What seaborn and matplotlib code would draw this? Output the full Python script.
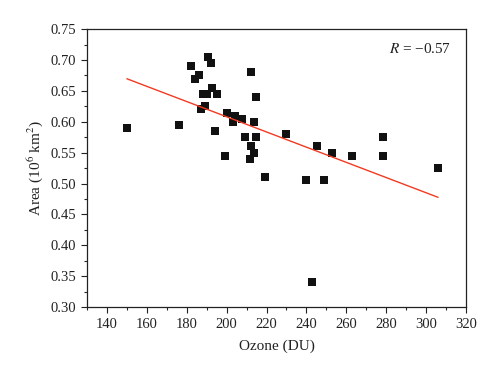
import numpy as np
import pandas as pd
import matplotlib
matplotlib.use("Agg")
import matplotlib.pyplot as plt
import seaborn as sns
from matplotlib.ticker import MultipleLocator

# values
ozone = [150, 176, 182, 184, 186, 187, 188, 189, 190, 190.5, 192, 192.5,
         194, 195, 199, 200, 203, 204, 207.5, 209, 211.5, 212, 212, 213.5,
         213.5, 214.5, 214.5, 219, 230, 240, 243, 245.5, 249, 253, 263,
         278.5, 278.5, 306]
area = [0.590, 0.595, 0.690, 0.670, 0.675, 0.620, 0.645, 0.625, 0.645, 0.705,
        0.695, 0.655, 0.585, 0.645, 0.545, 0.615, 0.600, 0.610, 0.605, 0.575,
        0.540, 0.560, 0.680, 0.550, 0.600, 0.575, 0.640, 0.510, 0.580, 0.505,
        0.340, 0.560, 0.505, 0.550, 0.545, 0.575, 0.545, 0.525]
r_label = "$R$ = \u22120.57"

df = pd.DataFrame({"ozone": ozone, "area": area})

sns.set_style("ticks")
plt.rcParams["font.family"] = ["Liberation Serif", "DejaVu Serif"]
plt.rcParams["mathtext.fontset"] = "stix"

fig = plt.figure(figsize=(5, 3.79), dpi=100)
ax = fig.add_axes([0.174, 0.190, 0.758, 0.733])

sns.regplot(data=df, x="ozone", y="area", ax=ax, ci=None, truncate=True,
            marker="s",
            scatter_kws={"color": "#111111", "s": 34, "linewidths": 0,
                         "alpha": 1},
            line_kws={"color": "#f03a22", "linewidth": 1.0})

ax.set_xlim(130, 320)
ax.set_ylim(0.30, 0.75)
ax.xaxis.set_major_locator(MultipleLocator(20))
ax.xaxis.set_minor_locator(MultipleLocator(10))
ax.yaxis.set_major_locator(MultipleLocator(0.05))
ax.yaxis.set_minor_locator(MultipleLocator(0.025))
ax.yaxis.set_major_formatter(matplotlib.ticker.FormatStrFormatter("%.2f"))
ax.tick_params(which="major", direction="out", length=4.5, width=0.8,
               labelsize=10.5, colors="#222222")
ax.tick_params(which="minor", direction="out", length=2.5, width=0.8)
for s in ax.spines.values():
    s.set_linewidth(0.9)
    s.set_color("#222222")

ax.set_xlabel("Ozone (DU)", fontsize=11, color="#222222", labelpad=6)
ax.set_ylabel("Area (10$^6$ km$^2$)", fontsize=11, color="#222222")
ax.text(0.96, 0.93, r_label, transform=ax.transAxes, ha="right", va="center",
        fontsize=11, color="#222222")

fig.savefig("out.png", dpi=100)
